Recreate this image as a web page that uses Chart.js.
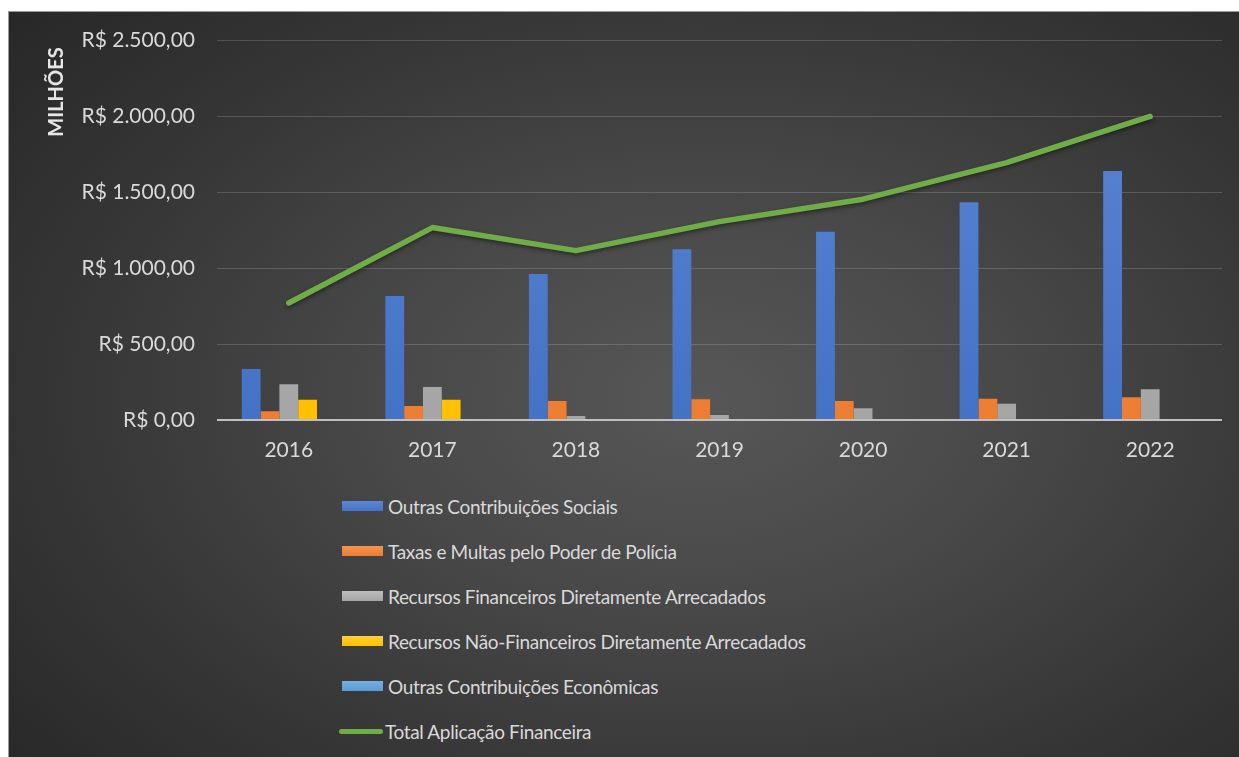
<!DOCTYPE html>
<html>
<head>
<meta charset="utf-8">
<script src="https://cdn.jsdelivr.net/npm/chart.js@4.4.1/dist/chart.umd.min.js"></script>
<style>
  html, body { margin: 0; padding: 0; background: #ffffff; width: 1239px; height: 757px; overflow: hidden; }
  #panel {
    position: absolute; left: 8px; top: 11px; width: 1231px; height: 746px;
    background: radial-gradient(ellipse 75% 80% at 56% 52%, #575757 0%, #484848 35%, #353535 70%, #272727 100%);
    border-left: 1px solid #9a9a9a; border-top: 1px solid #9a9a9a;
  }
  #wrap { position: absolute; left: 0; top: -6px; width: 1231px; height: 485px; }
  #legend { position: absolute; left: 0; top: 0; }
  .item { position: absolute; left: 333px; height: 24px; display: flex; align-items: center;
          font-family: Lato, "Open Sans", sans-serif; font-size: 19px; letter-spacing: -0.35px; color: #d9d9d9; white-space: nowrap; }
  .sw { width: 41px; height: 10px; margin-right: 5px; }
  .ln { width: 44px; height: 5px; border-radius: 3px; margin-right: 2px; margin-left: -3px; }
</style>
</head>
<body>
<div id="panel">
  <div id="wrap"><canvas id="c"></canvas></div>
  <div id="legend"></div>
</div>
<script>
const categories = ["2016", "2017", "2018", "2019", "2020", "2021", "2022"];
const outrasContribuicoesSociais = [336, 817, 962, 1125, 1241, 1435, 1641];
const taxasMultasPoderPolicia = [57, 92, 125, 136, 125, 140, 150];
const recursosFinanceirosDiretos = [235, 217, 26, 33, 77, 107, 202];
const recursosNaoFinanceirosDiretos = [134, 134, 7, 7, 7, 7, 7];
const outrasContribuicoesEconomicas = [7, 6, 6, 6, 6, 0, 0];
const totalAplicacaoFinanceira = [771, 1268, 1116, 1307, 1455, 1696, 2000];
const yTicks = [0, 500, 1000, 1500, 2000, 2500];
const seriesNames = [
  "Outras Contribuições Sociais",
  "Taxas e Multas pelo Poder de Polícia",
  "Recursos Financeiros Diretamente Arrecadados",
  "Recursos Não-Financeiros Diretamente Arrecadados",
  "Outras Contribuições Econômicas",
  "Total Aplicação Financeira"
];
const colors = ["#4472C4", "#ED7D31", "#A5A5A5", "#FFC000", "#5B9BD5", "#70AD47"];
const lightColors = ["#5D87D6", "#F4934F", "#BDBDBD", "#FFD03A", "#75AEE0", "#70AD47"];

function brl(v) {
  const s = Math.round(v).toString().replace(/\B(?=(\d{3})+(?!\d))/g, ".");
  return "R$ " + s + ",00";
}

function grad(i) {
  return function(ctx) {
    const ch = ctx.chart;
    const a = ch.chartArea;
    if (!a) return colors[i];
    const g = ch.ctx.createLinearGradient(0, a.top, 0, a.bottom);
    g.addColorStop(0, lightColors[i]);
    g.addColorStop(1, colors[i]);
    return g;
  };
}

const barSeries = [outrasContribuicoesSociais, taxasMultasPoderPolicia, recursosFinanceirosDiretos,
                   recursosNaoFinanceirosDiretos, outrasContribuicoesEconomicas];

const datasets = barSeries.map((d, i) => ({
  type: "bar",
  label: seriesNames[i],
  data: d,
  backgroundColor: grad(i),
  borderWidth: 0,
  categoryPercentage: 0.655,
  barPercentage: 1.0,
  order: 2
}));
datasets.push({
  type: "line",
  label: seriesNames[5],
  data: totalAplicacaoFinanceira,
  borderColor: colors[5],
  borderWidth: 5.5,
  pointRadius: 0,
  borderCapStyle: "round",
  borderJoinStyle: "round",
  tension: 0,
  order: 1
});

const milhoes = {
  id: "milhoes",
  afterDraw(chart) {
    const c = chart.ctx;
    c.save();
    c.translate(48, 86);
    c.rotate(-Math.PI / 2);
    c.fillStyle = "#e6e6e6";
    c.font = "bold 20px Lato, 'Open Sans', sans-serif";
    c.textAlign = "center";
    c.textBaseline = "middle";
    c.fillText("MILHÕES", 0, 0);
    c.restore();
  }
};
const lineShadow = {
  id: "lineShadow",
  beforeDatasetDraw(chart, args) {
    if (args.meta.type === "line") {
      chart.ctx.save();
      chart.ctx.shadowColor = "rgba(0,0,0,0.45)";
      chart.ctx.shadowBlur = 4;
      chart.ctx.shadowOffsetY = 2;
    }
  },
  afterDatasetDraw(chart, args) {
    if (args.meta.type === "line") chart.ctx.restore();
  }
};

new Chart(document.getElementById("c"), {
  data: { labels: categories, datasets },
  options: {
    responsive: true,
    maintainAspectRatio: false,
    animation: false,
    layout: { padding: { top: 25, right: 18, left: 0, bottom: 0 } },
    plugins: { legend: { display: false }, tooltip: { enabled: false } },
    scales: {
      x: {
        grid: { display: false, drawTicks: false },
        border: { display: false },
        ticks: { color: "#d9d9d9", font: { family: "Lato, 'Open Sans', sans-serif", size: 21 }, padding: 18 },
        afterFit(s) { s.height = 71; }
      },
      y: {
        min: 0, max: 2500,
        afterBuildTicks(s) { s.ticks = yTicks.map(v => ({ value: v })); },
        grid: {
          drawTicks: false,
          color: (ctx) => ctx.tick && ctx.tick.value === 0 ? "#bfbfbf" : "rgba(255,255,255,0.16)",
          lineWidth: (ctx) => ctx.tick && ctx.tick.value === 0 ? 2 : 1
        },
        border: { display: false },
        ticks: {
          color: "#d9d9d9",
          font: { family: "Lato, 'Open Sans', sans-serif", size: 21 },
          padding: 22,
          callback: (v) => brl(v)
        },
        afterFit(s) { s.width = 208; }
      }
    }
  },
  plugins: [milhoes, lineShadow]
});

const legend = document.getElementById("legend");
const rowY = [494, 539, 584, 629, 674, 719];
seriesNames.forEach((name, i) => {
  const it = document.createElement("div");
  it.className = "item";
  it.style.top = (rowY[i] - 12) + "px";
  const sw = document.createElement("span");
  if (i === 5) {
    sw.className = "ln";
    sw.style.background = colors[i];
  } else {
    sw.className = "sw";
    sw.style.background = "linear-gradient(" + lightColors[i] + "," + colors[i] + ")";
  }
  const tx = document.createElement("span");
  tx.textContent = name;
  it.appendChild(sw);
  it.appendChild(tx);
  legend.appendChild(it);
});
</script>
</body>
</html>
